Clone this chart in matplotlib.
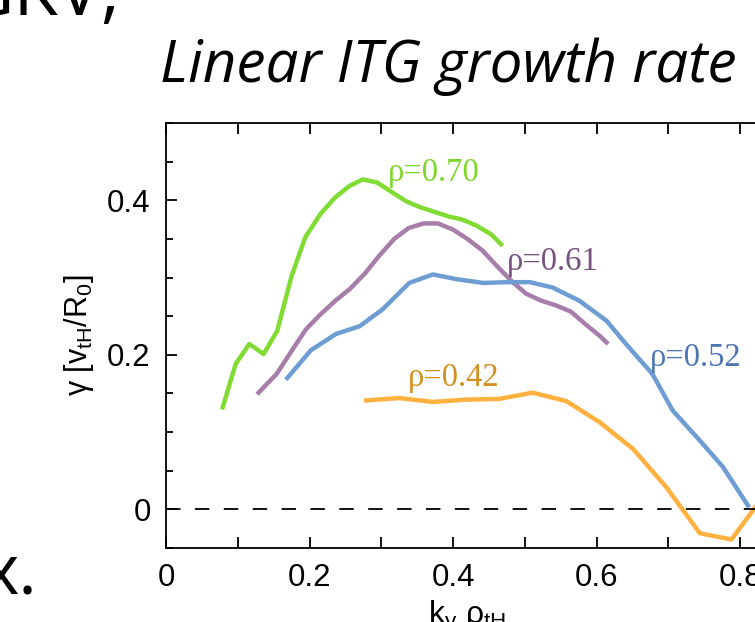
import matplotlib.pyplot as plt
from matplotlib.ticker import MultipleLocator

# rho = 0.70
k70 = [0.079, 0.097, 0.116, 0.136, 0.155, 0.175, 0.194, 0.215, 0.235, 0.255, 0.274,
       0.294, 0.314, 0.334, 0.354, 0.374, 0.394, 0.413, 0.433, 0.453, 0.467]
g70 = [0.132, 0.188, 0.214, 0.201, 0.231, 0.302, 0.352, 0.382, 0.403, 0.418, 0.427,
       0.423, 0.411, 0.399, 0.391, 0.385, 0.379, 0.375, 0.367, 0.356, 0.343]

# rho = 0.61
k61 = [0.129, 0.154, 0.175, 0.195, 0.215, 0.236, 0.256, 0.277, 0.297, 0.318, 0.338,
       0.359, 0.379, 0.400, 0.420, 0.441, 0.461, 0.482, 0.502, 0.523, 0.543, 0.564,
       0.584, 0.605, 0.614]
g61 = [0.151, 0.175, 0.205, 0.233, 0.252, 0.270, 0.285, 0.305, 0.328, 0.350, 0.364,
       0.370, 0.370, 0.362, 0.350, 0.335, 0.315, 0.295, 0.279, 0.270, 0.264, 0.256,
       0.240, 0.224, 0.216]

# rho = 0.52
k52 = [0.169, 0.202, 0.237, 0.270, 0.302, 0.339, 0.372, 0.404, 0.442, 0.475, 0.507,
       0.539, 0.576, 0.614, 0.641, 0.678, 0.706, 0.744, 0.776, 0.811]
g52 = [0.170, 0.206, 0.227, 0.237, 0.259, 0.293, 0.304, 0.298, 0.293, 0.294, 0.294,
       0.287, 0.270, 0.244, 0.214, 0.175, 0.128, 0.089, 0.055, 0.005]

# rho = 0.42
k42 = [0.279, 0.325, 0.372, 0.418, 0.465, 0.511, 0.558, 0.604, 0.651, 0.697, 0.744,
       0.788, 0.835]
g42 = [0.141, 0.144, 0.139, 0.142, 0.143, 0.151, 0.140, 0.113, 0.078, 0.029, -0.031,
       -0.039, 0.02]

plt.rcParams['mathtext.fontset'] = 'custom'
plt.rcParams['mathtext.rm'] = 'Liberation Sans'
plt.rcParams['mathtext.it'] = 'Liberation Sans:italic'

fig = plt.figure(figsize=(7.55, 6.22), dpi=100)
ax = fig.add_axes([0.2199, 0.1190, 0.7983, 0.6833])

ax.plot(k70, g70, color="#80DC32", lw=3.2)
ax.plot(k61, g61, color="#A77DAA", lw=3.2)
ax.plot(k52, g52, color="#6D9DD3", lw=3.2)
ax.plot(k42, g42, color="#FFB140", lw=3.2)
ax.axhline(0, color="black", lw=1.3, linestyle=(0, (8, 8)))

serif = "Liberation Serif"
ax.text(0.309, 0.4245, "ρ=0.70", color="#7DD62A", fontsize=23.5, family=serif, va="baseline")
ax.text(0.4746, 0.310, "ρ=0.61", color="#77507F", fontsize=23.5, family=serif, va="baseline")
ax.text(0.674, 0.186, "ρ=0.52", color="#4C76B2", fontsize=23.5, family=serif, va="baseline")
ax.text(0.337, 0.160, "ρ=0.42", color="#D4901F", fontsize=23.5, family=serif, va="baseline")

ax.set_xlim(0, 0.84)
ax.set_ylim(-0.05, 0.5)
ax.xaxis.set_minor_locator(MultipleLocator(0.1))
ax.yaxis.set_minor_locator(MultipleLocator(0.05))
ax.set_xticks([0, 0.2, 0.4, 0.6, 0.8])
ax.set_xticklabels(["0", "0.2", "0.4", "0.6", "0.8"])
ax.set_yticks([0, 0.2, 0.4])
ax.set_yticklabels(["0", "0.2", "0.4"])
ax.tick_params(which="both", direction="in", top=True, right=False, width=1.3)
ax.tick_params(which="major", length=8, labelsize=22.5, pad=11)
ax.tick_params(axis="x", which="minor", length=8)
ax.tick_params(axis="y", which="minor", length=5)
for lab in ax.get_xticklabels() + ax.get_yticklabels():
    lab.set_family("Liberation Sans")
for s in ax.spines.values():
    s.set_linewidth(1.3)

ax.set_ylabel(r"γ [v$_\mathregular{tH}$/R$_\mathregular{0}$]", fontsize=22,
              family="Liberation Sans", labelpad=8)
ax.set_xlabel(r"k$_\mathregular{y}$ ρ$_\mathregular{tH}$", fontsize=23,
              family="Liberation Sans", labelpad=4)

fig.text(160 / 755, 1 - 82 / 622, "Linear ITG growth rate", fontsize=42,
         family="Open Sans", style="italic", va="baseline")
fig.text(120 / 755, 1 - 15 / 622, "GKV,", fontsize=52, family="Open Sans",
         ha="right", va="baseline")
fig.text(37 / 755, 1 - 593 / 622, "x.", fontsize=50, family="Open Sans",
         ha="right", va="baseline")

fig.savefig("out.png", dpi=100)
